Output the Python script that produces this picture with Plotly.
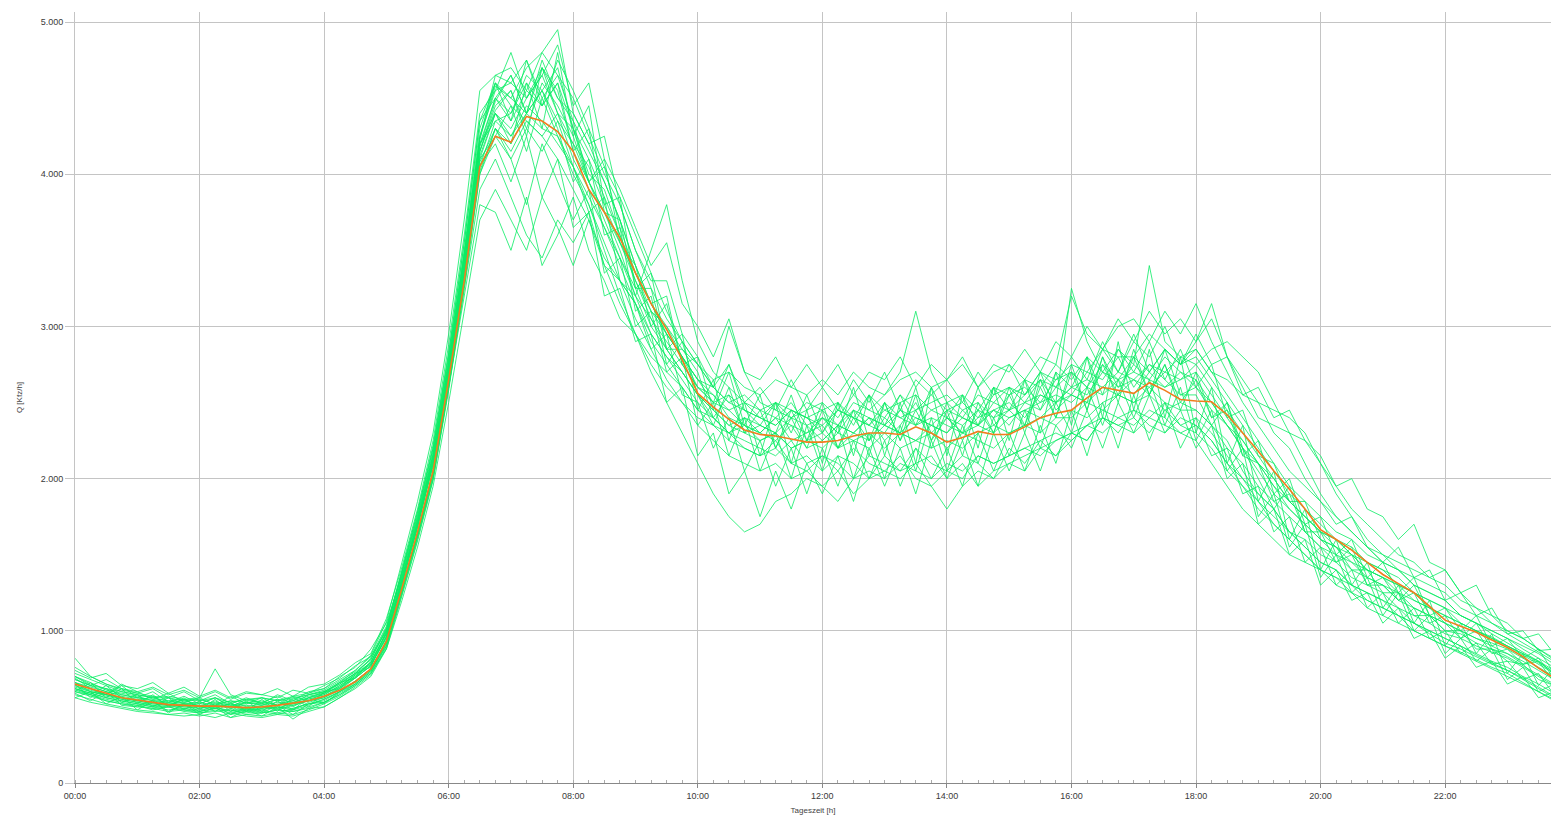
import plotly.graph_objects as go

# time of day in hours, 15-minute steps (00:00 .. 23:45)
times = [i * 0.25 for i in range(96)]

x_tickvals = [0, 2, 4, 6, 8, 10, 12, 14, 16, 18, 20, 22]
x_ticktext = ["00:00", "02:00", "04:00", "06:00", "08:00", "10:00",
              "12:00", "14:00", "16:00", "18:00", "20:00", "22:00"]
y_tickvals = [0, 1000, 2000, 3000, 4000, 5000]
y_ticktext = ["0", "1.000", "2.000", "3.000", "4.000", "5.000"]

mean_profile = [
    650, 620, 590, 560, 545, 530, 515, 510, 505, 505, 500, 495,
    500, 510, 525, 540, 570, 610, 665, 750, 930, 1280, 1650, 2050,
    2650, 3300, 4050, 4250, 4210, 4380, 4350, 4280, 4150, 3900, 3750, 3580,
    3350, 3150, 2980, 2780, 2560, 2470, 2390, 2320, 2290, 2280, 2260, 2240,
    2240, 2250, 2280, 2300, 2300, 2290, 2340, 2300, 2240, 2270, 2310, 2290,
    2290, 2340, 2400, 2430, 2450, 2530, 2600, 2580, 2560, 2630, 2580, 2520,
    2510, 2505, 2420, 2300, 2180, 2050, 1930, 1800, 1665, 1600, 1530, 1450,
    1370, 1310, 1250, 1160, 1070, 1030, 990, 940, 890, 830, 755, 690]

day01 = [700,660,610,590, 570,540,560,520, 530,510,540,500, 520,490,530,560,
         580,640,700,790, 990,1350,1720,2150, 2750,3450,4200,4500, 4400,4650,4550,4700,
         4300,4000,3900,3600, 3300,3100,3000,2800, 2650,2500,2450,2350, 2300,2400,2250,2300,
         2350,2200,2300,2400, 2250,2350,2500,2300, 2400,2300,2350,2450, 2350,2500,2450,2600,
         2550,2700,2650,2800, 2600,2750,2650,2550, 2600,2450,2350,2200, 2100,1950,1850,1750,
         1650,1600,1500,1400, 1350,1300,1200,1150, 1100,1050,1000,950, 900,850,800,720]
day02 = [600,580,540,520, 510,480,500,470, 460,480,450,470, 460,480,470,500,
         530,580,640,720, 880,1200,1550,1950, 2500,3100,3700,3900, 3700,3500,3850,3650,
         3400,3700,3450,3300, 3150,2950,2800,2700, 2550,2400,2300,2200, 2150,2250,2100,2050,
         2150,2100,2000,2150, 2100,2050,2200,2100, 2050,2150,2100,2000, 2200,2100,2250,2300,
         2250,2350,2400,2300, 2450,2350,2300,2400, 2350,2250,2100,2000, 1900,1800,1650,1600,
         1500,1450,1350,1300, 1250,1150,1100,1050, 980,950,900,860, 820,760,700,640]
day03 = [680,640,620,580, 560,550,530,540, 520,560,510,530, 540,510,550,580,
         600,660,720,820, 1020,1400,1780,2200, 2800,3500,4300,4600, 4500,4700,4800,4950,
         4400,4200,3950,3700, 3400,3150,2950,2800, 2600,2550,2450,2500, 2400,2350,2450,2400,
         2300,2450,2400,2350, 2500,2400,2450,2550, 2450,2500,2400,2550, 2600,2500,2650,2600,
         2700,2600,2850,2700, 2900,2800,3000,2750, 2850,2700,2550,2400, 2250,2100,1950,1850,
         1750,1650,1600,1500, 1450,1400,1300,1250, 1200,1100,1050,1000, 950,900,850,780]
day04 = [620,590,560,540, 520,500,480,490, 470,490,460,480, 470,450,480,510,
         550,600,670,750, 940,1300,1680,2100, 2700,3300,4000,4300, 4200,4400,4300,4250,
         4000,3800,3500,3200, 2950,2700,2500,2300, 2100,1900,1750,1650, 1700,1850,1900,2000,
         1950,2050,1900,2000, 2050,2000,2100,1950, 2050,2000,2150,2100, 2150,2200,2250,2150,
         2300,2250,2400,2350, 2400,2300,2450,2350, 2300,2200,2050,1950, 1850,1700,1600,1500,
         1400,1350,1300,1200, 1150,1100,1050,980, 920,880,830,780, 740,680,620,560]
day05 = [660,620,580,560, 540,520,510,500, 500,490,520,480, 490,500,480,530,
         560,610,690,770, 960,1320,1700,2120, 2680,3400,4150,4450, 4550,4300,4600,4450,
         4250,3950,3750,3500, 3200,3050,2850,2700, 2550,2450,2350,2400, 2300,2250,2350,2200,
         2250,2350,2300,2250, 2400,2300,2250,2350, 2300,2450,2350,2500, 2450,2550,2650,2500,
         3250,2900,2700,2850, 2750,3400,2900,2800, 2750,2600,2450,2300, 2150,2000,1850,1750,
         1650,1550,1500,1400, 1350,1250,1200,1150, 1050,1000,950,920, 880,820,760,700]
day06 = [640,600,570,550, 530,510,500,520, 500,510,490,470, 490,520,510,540,
         570,620,700,780, 950,1280,1620,2000, 2600,3250,3900,4100, 3850,3600,3450,3700,
         3550,3750,3400,3300, 3200,3500,3800,3300, 2900,2700,2600,2500, 2450,2400,2500,2350,
         2400,2300,2450,2350, 2300,2450,2350,2400, 2350,2300,2400,2450, 2500,2400,2550,2500,
         2600,2550,2700,2650, 2550,2700,2600,2650, 2700,2550,2400,2250, 2100,1950,1800,1700,
         1600,1550,1450,1400, 1350,1300,1250,1150, 1100,1050,1000,950, 900,840,780,720]
day07 = [720,680,640,600, 580,560,570,550, 540,560,530,550, 560,540,570,590,
         620,680,740,830, 1000,1380,1750,2180, 2780,3480,4250,4550, 4600,4500,4650,4400,
         4200,4050,3800,3550, 3300,3050,2900,2750, 2600,2500,2550,2450, 2400,2500,2400,2450,
         2500,2400,2550,2450, 2400,2550,2450,2500, 2550,2450,2500,2400, 2550,2600,2500,2650,
         2700,2600,2750,2650, 2800,2700,2850,2750, 2900,3150,2800,2600, 2400,2350,2300,2250,
         2100,1900,1750,1600, 1500,1450,1400,1350, 1400,1250,1150,1050, 980,920,860,800]
day08 = [580,550,520,500, 480,470,450,460, 440,460,430,450, 440,460,450,480,
         520,570,640,720, 900,1250,1620,2020, 2620,3300,4050,4350, 4250,4450,4350,4200,
         4050,3850,3650,3400, 3150,2900,2750,2600, 2450,2350,2250,2200, 2150,2200,2100,2150,
         2050,2150,2100,2000, 2150,2050,2100,2150, 2000,2100,1950,2050, 2100,2150,2200,2250,
         2300,2350,2450,2400, 2350,2450,2400,2300, 2250,2100,1950,1800, 1700,1600,1500,1450,
         1400,1300,1250,1150, 1100,1050,1000,950, 900,850,800,750, 700,650,600,540]
day09 = [640,610,580,560, 540,520,530,510, 490,520,500,510, 500,490,520,540,
         570,630,690,770, 970,1330,1700,2120, 2700,3420,4180,4500, 4350,4550,4450,4600,
         4300,4100,3850,3600, 3350,3100,2950,2800, 2650,2550,2400,2350, 2300,2400,2350,2300,
         2400,2350,2500,2450, 2550,2700,3100,2700, 2500,2550,2450,2600, 2550,2650,2600,2750,
         2650,2800,2700,2600, 2750,2650,2800,2700, 2650,2500,2350,2200, 2050,1900,1800,1700,
         1600,1500,1450,1350, 1300,1250,1150,1100, 1050,1000,950,900, 850,800,740,680]
day10 = [600,570,540,520, 500,490,470,480, 460,470,480,450, 460,480,470,490,
         530,590,650,730, 920,1270,1640,2060, 2640,3350,4100,4400, 4300,4500,4700,4550,
         4150,3950,3700,3450, 3200,2950,2800,2650, 2500,2400,2300,2250, 2200,2150,2250,2100,
         2150,2050,2200,2100, 2050,2150,2000,1950, 1800,1950,2050,2000, 2100,2050,2200,2150,
         2250,2350,2300,2400, 2450,2400,2500,2350, 2400,2300,2150,2000, 1850,1750,1650,1550,
         1450,1400,1300,1250, 1200,1100,1050,1000, 950,900,850,800, 760,700,650,590]
day11 = [700,650,620,600, 580,560,540,550, 560,750,580,540, 560,540,560,580,
         610,670,730,810, 1010,1370,1740,2160, 2760,3470,4230,4650, 4700,4550,4800,4650,
         4500,4250,4000,3800, 3500,3250,3050,2900, 2750,2650,2700,2600, 2550,2650,2600,2550,
         2650,2550,2700,2600, 2550,2650,2700,2600, 2650,2750,2600,2700, 2750,2650,2800,2750,
         3200,2950,2850,3000, 3050,2900,3100,2950, 3150,2900,2700,2500, 2350,2200,2050,1950,
         1850,1750,1650,1550, 1500,1400,1350,1300, 1250,1150,1100,1050, 1000,950,880,820]
day12 = [620,590,560,540, 520,500,510,490, 480,500,470,490, 480,500,490,520,
         550,600,670,750, 930,1280,1630,2030, 2600,3200,3800,3750, 3500,3850,3400,3600,
         3850,3500,3300,3050, 2950,2800,2700,2600, 2450,2400,2300,2350, 2250,2300,2200,2250,
         2300,2200,2250,2300, 2200,2300,2250,2200, 2250,2200,2300,2350, 2300,2350,2400,2350,
         2450,2400,2500,2550, 2500,2550,2450,2500, 2450,2350,2200,2100, 1950,1850,1750,1650,
         1550,1500,1400,1350, 1300,1200,1150,1100, 1000,980,920,880, 830,770,710,650]
day13 = [680,640,600,580, 560,540,520,530, 510,530,510,520, 530,510,540,570,
         590,650,720,810, 1010,1380,1760,2200, 2820,3550,4350,4600, 4450,4350,4250,4100,
         3900,3700,3400,3150, 2950,2750,2600,2500, 2400,2350,2300,2400, 2350,2300,2400,2350,
         2250,2350,2300,2400, 2350,2300,2400,2350, 2300,2400,2350,2300, 2400,2450,2400,2500,
         2550,2500,2600,2550, 2650,2600,2700,2650, 2750,2850,2900,2800, 2700,2500,2300,2100,
         1900,1750,1650,1550, 1450,1400,1300,1250, 1200,1100,1050,1000, 950,880,820,760]
day14 = [760,700,650,620, 590,570,560,540, 550,520,540,530, 520,550,530,560,
         600,660,740,840, 1060,1450,1850,2300, 2950,3700,4550,4650, 4600,4750,4500,4650,
         4350,4150,3950,3700, 3400,3150,2950,2800, 2650,2600,2500,2550, 2450,2500,2450,2400,
         2450,2500,2400,2550, 2450,2500,2550,2450, 2500,2400,2550,2500, 2600,2550,2700,2650,
         2750,2700,2850,2800, 2800,2950,2850,2750, 2800,2650,2500,2350, 2200,2050,1900,1800,
         1700,1600,1550,1450, 1400,1350,1250,1200, 1150,1100,1050,980, 920,860,800,740]
day15 = [560,530,510,490, 470,460,450,440, 450,430,460,440, 430,450,440,470,
         500,560,630,710, 890,1240,1600,2000, 2600,3280,4020,4300, 4150,4350,4250,4400,
         4100,3900,3650,3450, 3250,3000,2850,2700, 2550,2450,2350,2300, 2250,2300,2200,2250,
         2200,2300,2250,2200, 2300,2200,2250,2300, 2200,2300,2250,2200, 2300,2350,2300,2400,
         2400,2500,2450,2550, 2500,2600,2500,2450, 2450,2350,2250,2050, 1900,1800,1650,1550,
         1450,1400,1300,1250, 1200,1150,1050,1000, 950,900,840,790, 740,690,630,570]
day16 = [660,630,600,570, 550,530,540,520, 510,500,520,490, 510,530,520,550,
         580,640,710,790, 980,1340,1710,2140, 2730,3420,4200,4350, 4400,4600,4450,4750,
         4550,4300,4050,3850, 3600,3350,3100,2900, 2750,2600,2500,2450, 2400,2350,2450,2400,
         2350,2450,2400,2350, 2450,2400,2350,2450, 2400,2350,2450,2400, 2450,2500,2550,2500,
         2600,2650,2600,2700, 2650,2750,2700,2800, 2850,2700,2650,2550, 2500,2450,2400,2300,
         2100,1950,1800,1700, 1600,1500,1450,1350, 1300,1200,1150,1100, 1000,950,880,810]
day17 = [630,600,580,550, 530,510,520,500, 490,510,500,480, 500,480,510,540,
         560,620,690,770, 960,1310,1680,2100, 2680,3380,4120,4400, 4250,4400,4550,4350,
         4200,3950,3750,3550, 3350,3150,3000,2850, 2750,2600,3000,2700, 2500,2450,2400,2500,
         2450,2350,2450,2400, 2350,2450,2400,2350, 2450,2400,2350,2450, 2400,2450,2500,2550,
         2500,2600,2550,2650, 2700,2650,2600,2700, 2600,2500,2350,2250, 2100,2000,1850,1750,
         1650,1600,1500,1450, 1400,1300,1250,1200, 1150,1050,1000,960, 900,850,790,730]
day18 = [610,580,550,530, 510,490,500,480, 470,490,480,460, 480,460,490,520,
         540,600,660,740, 920,1270,1640,2050, 2650,3350,4100,4250, 4100,4300,4150,4350,
         4050,3800,3550,3300, 3050,2850,2650,2500, 2350,2250,2150,2100, 2050,2100,2000,2050,
         1950,1850,2000,2050, 2000,2100,2050,2000, 2100,2050,2150,2100, 2150,2200,2150,2250,
         2300,2250,2400,2350, 2300,2400,2350,2300, 2350,2250,2100,1950, 1800,1700,1600,1500,
         1400,1350,1250,1200, 1150,1100,1000,950, 900,860,810,760, 720,660,600,550]
day19 = [820,700,650,610, 590,620,560,600, 540,580,520,560, 520,580,540,600,
         620,700,760,880, 1050,1360,1700,2100, 2700,3400,4150,4420, 4550,4250,4700,4400,
         4300,3950,4100,3550, 3400,3000,3150,2750, 2800,2450,2700,2350, 2550,2200,2450,2250,
         2500,2200,2450,2150, 2500,2250,2550,2200, 2450,2150,2500,2300, 2600,2300,2650,2400,
         2750,2450,2800,2500, 2850,2550,2750,2450, 2700,2400,2500,2150, 2250,1900,2000,1700,
         1750,1500,1600,1350, 1450,1250,1350,1100, 1150,1000,1100,900, 950,820,880,720]
day20 = [560,600,520,570, 480,540,460,520, 450,500,430,480, 440,500,420,490,
         500,560,620,700, 880,1230,1590,1990, 2580,3250,4000,4250, 4450,4150,4500,4250,
         4050,3750,3850,3300, 3150,2850,2950,2550, 2500,2200,2400,2050, 2250,1950,2200,1900,
         2200,1950,2250,2000, 2250,1950,2200,2000, 2200,1950,2300,2050, 2300,2050,2350,2100,
         2450,2150,2500,2200, 2550,2250,2500,2200, 2400,2150,2200,1900, 1950,1650,1750,1450,
         1550,1300,1400,1150, 1250,1050,1150,950, 1000,850,920,780, 800,680,720,580]
day21 = [650,560,620,530, 580,500,560,480, 540,470,530,470, 550,470,560,500,
         600,620,720,760, 1000,1300,1720,2080, 2750,3350,4200,4400, 4200,4600,4300,4800,
         4250,4450,3800,3850, 3250,3350,2850,2950, 2450,2650,2250,2500, 2150,2500,2100,2450,
         2100,2500,2150,2550, 2150,2500,2100,2600, 2150,2550,2200,2600, 2250,2650,2300,2700,
         2350,2800,2400,2900, 2450,2850,2400,2800, 2300,2600,2100,2350, 1850,2050,1600,1800,
         1400,1600,1300,1450, 1150,1300,1050,1200, 900,1050,850,980, 720,850,640,760]
day22 = [740,690,720,640, 620,660,590,630, 570,610,560,600, 580,620,570,630,
         650,710,790,850, 1080,1420,1800,2250, 2880,3600,4400,4550, 4800,4500,4650,4850,
         4450,4600,4100,3900, 3650,3400,3550,3150, 3000,2800,3050,2700, 2650,2800,2600,2750,
         2600,2750,2550,2700, 2650,2800,2600,2750, 2650,2800,2600,2750, 2700,2850,2700,2900,
         2800,3000,2850,3050, 2900,3100,2950,3050, 2900,3050,2800,2650, 2500,2300,2200,2000,
         1850,1700,1750,1550, 1450,1550,1350,1400, 1200,1250,1100,1150, 980,1000,870,880]
day23 = [600,660,560,620, 520,580,500,560, 480,550,470,540, 470,540,480,560,
         520,600,650,740, 900,1260,1620,2040, 2640,3350,4080,4300, 4100,3800,4200,3950,
         3700,3900,3350,3450, 3000,3100,2700,2800, 2350,2500,2150,2400, 2050,2300,2000,2350,
         2050,2350,2000,2300, 2000,2350,2050,2400, 2050,2350,2100,2400, 2150,2450,2200,2500,
         2300,2600,2350,2650, 2400,2650,2350,2600, 2250,2450,2050,2200, 1750,1900,1550,1700,
         1350,1500,1250,1350, 1100,1250,1000,1100, 850,950,800,880, 680,760,600,650]
day24 = [690,620,580,650, 600,550,590,530, 560,510,570,520, 560,510,570,540,
         590,660,690,800, 980,1320,1690,2140, 2720,3450,4250,4600, 4350,4750,4450,4600,
         4150,4300,3750,3700, 3250,3250,2850,2850, 2700,2400,2550,2300, 2450,2200,2400,2200,
         2450,2200,2400,2250, 2500,2250,2450,2250, 2500,2250,2450,2300, 2550,2350,2600,2400,
         2700,2450,2750,2550, 2800,2550,2750,2500, 2650,2400,2450,2150, 2100,1850,1900,1650,
         1650,1450,1500,1300, 1350,1200,1250,1050, 1100,950,1000,850, 880,780,800,660]
day25 = [620,580,640,560, 540,570,510,550, 500,540,490,530, 510,550,500,560,
         590,630,710,780, 960,1330,1680,2110, 2700,3380,4150,4480, 4650,4400,4550,4300,
         3950,4100,3600,3650, 3100,3200,2750,2900, 2550,2350,2600,2300, 2350,2300,2550,2250,
         2400,2300,2600,2250, 2350,2300,2600,2250, 2400,2300,2600,2350, 2450,2350,2700,2450,
         2550,2500,2800,2600, 2650,2550,2850,2550, 2550,2350,2500,2200, 2000,1800,1950,1650,
         1550,1450,1550,1300, 1300,1200,1300,1100, 1050,950,1050,880, 850,780,820,690]
day26 = [700,640,680,620, 600,630,580,610, 560,600,550,590, 580,560,610,590,
         640,690,770,830, 1030,1390,1780,2220, 2830,3550,4350,4500, 4650,4400,4700,4500,
         4400,4200,4250,3800, 3500,3300,3300,2950, 2800,2600,2750,2500, 2600,2450,2650,2450,
         2600,2450,2650,2500, 2700,2450,2650,2550, 2650,2500,2700,2550, 2750,2550,2700,2600,
         2800,2650,2900,2700, 2950,2700,2850,2750, 2950,2750,2800,2550, 2600,2400,2450,2250,
         2150,1950,2000,1800, 1750,1600,1700,1450, 1400,1250,1300,1100, 1050,950,980,850]
day27 = [590,540,600,510, 500,540,470,520, 470,510,450,500, 460,510,450,520,
         530,580,650,730, 910,1260,1630,2040, 2630,3320,4060,4200, 3950,4250,3850,4100,
         3650,3750,3200,3250, 2900,2950,2500,2600, 2150,2300,1900,2050, 1750,2050,1800,2100,
         1900,2150,1850,2200, 1950,2200,1900,2250, 2000,2250,1950,2300, 2050,2300,2050,2350,
         2200,2450,2200,2500, 2300,2550,2300,2450, 2200,2350,2000,2100, 1700,1800,1500,1600,
         1300,1400,1200,1250, 1050,1150,950,1000, 820,900,760,800, 650,700,560,600]
day28 = [660,600,580,640, 560,600,530,570, 520,560,500,550, 530,570,520,580,
         600,650,720,790, 990,1350,1730,2160, 2760,3470,4230,4580, 4500,4400,4750,4500,
         4350,3950,4050,3650, 3350,3150,3200,2750, 2600,2500,2750,2450, 2350,2500,2300,2550,
         2300,2500,2350,2550, 2350,2550,2350,2600, 2400,2550,2350,2600, 2450,2650,2450,2700,
         2600,2800,2550,2850, 2700,2900,2650,2850, 2600,2750,2400,2450, 2150,2100,1850,1850,
         1600,1550,1400,1400, 1250,1250,1100,1100, 1000,1000,880,880, 800,780,680,640]

days = [day01, day02, day03, day04, day05, day06, day07, day08, day09, day10,
        day11, day12, day13, day14, day15, day16, day17, day18, day19, day20,
        day21, day22, day23, day24, day25, day26, day27, day28]

fig = go.Figure()
for d in days:
    fig.add_trace(go.Scatter(x=times, y=d, mode="lines",
                             line=dict(color="rgba(10,236,100,0.8)", width=1),
                             hoverinfo="skip", showlegend=False))
fig.add_trace(go.Scatter(x=times, y=mean_profile, mode="lines",
                         line=dict(color="#F07D1E", width=1.6),
                         showlegend=False))

axis_font = dict(family="Liberation Sans, Arial, sans-serif", size=9, color="#3A3A3A")
fig.update_layout(
    width=1551, height=815,
    margin=dict(l=75, r=0, t=12, b=32),
    paper_bgcolor="white", plot_bgcolor="white",
    font=axis_font,
    xaxis=dict(range=[0, 23.7], tickvals=x_tickvals, ticktext=x_ticktext,
               showgrid=True, gridcolor="#C4C4C4", gridwidth=1,
               showline=True, linecolor="#888888", linewidth=1,
               ticks="outside", ticklen=4, tickcolor="#888888",
               minor=dict(dtick=0.25, tick0=0, ticks="inside", ticklen=3,
                          tickcolor="#AAAAAA", showgrid=False),
               zeroline=False, tickfont=axis_font,
               title=dict(text="Tageszeit [h]", font=dict(size=8, color="#444444"), standoff=7)),
    yaxis=dict(range=[0, 5066], tickvals=y_tickvals, ticktext=y_ticktext,
               showgrid=True, gridcolor="#C4C4C4", gridwidth=1,
               showline=True, linecolor="#C4C4C4", linewidth=1,
               ticks="outside", ticklen=9, tickcolor="#C4C4C4",
               zeroline=False, tickfont=axis_font,
               title=dict(text="Q [Kfz/h]", font=dict(size=8, color="#444444"), standoff=16)),
)

fig.write_html("out.html", config={"displayModeBar": False},
               post_script="document.body.style.margin='0';")
